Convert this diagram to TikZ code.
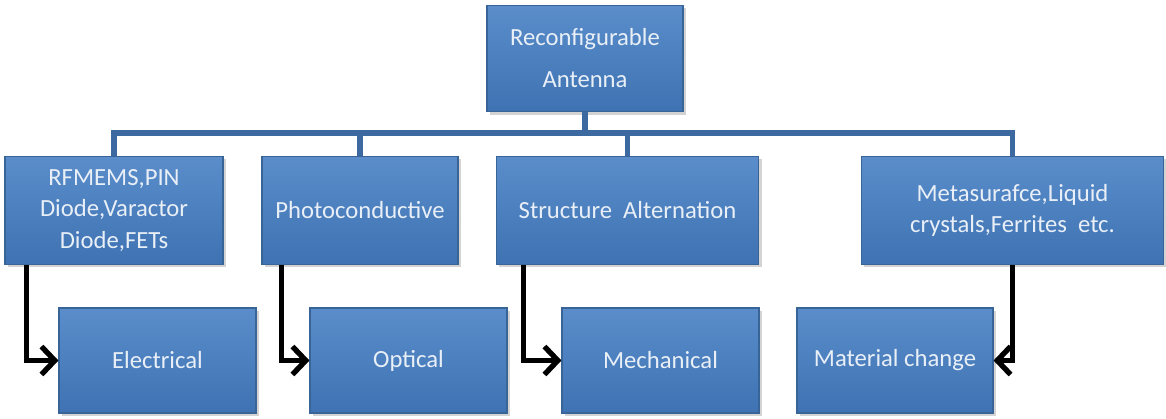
\documentclass[tikz,border=0pt]{standalone}
\usepackage{fontspec}
\setmainfont{Carlito}
\usepackage{tikz}
\usetikzlibrary{arrows.meta, shadows, calc}
\definecolor{boxtop}{HTML}{5A8DCA}
\definecolor{boxbot}{HTML}{3E72B2}
\definecolor{boxedge}{HTML}{386497}
\definecolor{busblue}{HTML}{3B69A0}
\definecolor{boxtext}{HTML}{E9EFF7}
\tikzset{
  blk/.style={rectangle, draw=boxedge, line width=0.8pt, top color=boxtop, bottom color=boxbot,
    text=boxtext, align=center, inner sep=2pt,
    font=\fontsize{18.5}{23.5}\selectfont,
    drop shadow={shadow xshift=2pt, shadow yshift=-2pt, opacity=0.35}},
  bus/.style={draw=busblue, line width=4pt},
  arw/.style={draw=black, line width=4pt, -{Straight Barb[length=10pt,width=21pt]}}
}
\begin{document}
\begin{tikzpicture}[x=0.75pt,y=-0.75pt]
            \useasboundingbox (0,0) rectangle (1166,418);
            % Top node
            \node[blk, minimum width=147pt, minimum height=80pt] (antenna) at (585,58.5) {Reconfigurable\\[8pt]Antenna};
            % Techniques
            \node[blk, minimum width=163.5pt, minimum height=81pt] (switches) at (114,210.5) {RFMEMS,PIN\\Diode,Varactor\\Diode,FETs};
            \node[blk, minimum width=147pt, minimum height=81pt] (photo) at (360,210.5) {Photoconductive};
            \node[blk, minimum width=197pt, minimum height=81pt] (structure) at (627.5,210.5) {Structure\ \ Alternation};
            \node[blk, minimum width=227pt, minimum height=81pt] (materials) at (1012.5,210.5) {Metasurafce,Liquid\\crystals,Ferrites\ \ etc.};
            % Categories
            \node[blk, minimum width=147.75pt, minimum height=78.75pt] (electrical) at (157.5,360.5) {Electrical};
            \node[blk, minimum width=147.75pt, minimum height=78.75pt] (optical) at (408.5,360.5) {Optical};
            \node[blk, minimum width=147.75pt, minimum height=78.75pt] (mechanical) at (660.5,360.5) {Mechanical};
            \node[blk, minimum width=147pt, minimum height=78.75pt] (matchange) at (895,360.5) {Material change};
            % Bus
            \coordinate (bus) at (585,133);
            \draw[bus] (antenna.south) -- (bus);
            \draw[bus] (switches.north) |- (bus);
            \draw[bus] (photo.north) |- (bus);
            \draw[bus] (structure.north) |- (bus);
            \draw[bus] (materials.north) |- (bus);
            % Arrows
            \draw[arw] ($(switches.south west)+(22,0)$) |- (electrical.west);
            \draw[arw] ($(photo.south west)+(20,0)$) |- (optical.west);
            \draw[arw] ($(structure.south west)+(28,0)$) |- (mechanical.west);
            \draw[arw] (materials.south) |- (matchange.east);
        \end{tikzpicture}
\end{document}
